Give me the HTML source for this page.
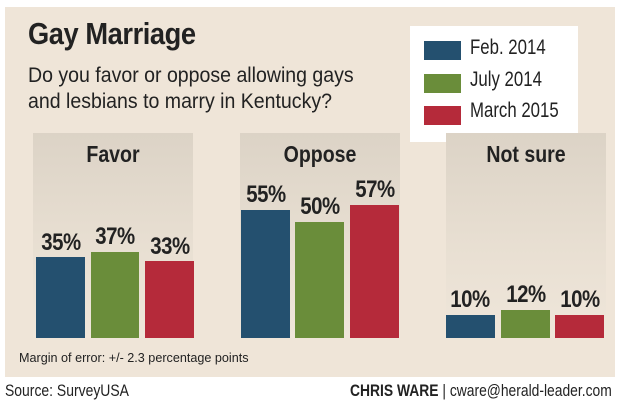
<!DOCTYPE html><html><head><style>
body{margin:0;width:620px;height:407px;background:#fff;position:relative;overflow:hidden;font-family:"Liberation Sans",sans-serif;color:#222}
.a{position:absolute;white-space:nowrap;transform-origin:left top}
.panel{position:absolute;top:133px;height:205px;width:160px;background:linear-gradient(#dcd3c6,#e9e0d3 60%,#efe6da)}
.bar{position:absolute}
.b{background:#24506f}.g{background:#6a8d3a}.r{background:#b52a3a}
.h{position:absolute;top:141px;width:160px;text-align:center;font-weight:bold;font-size:23px;transform:scaleX(0.85)}
.v{position:absolute;width:60px;text-align:center;font-weight:bold;font-size:24px;transform:scaleX(0.85);letter-spacing:-0.5px}
.lg{position:absolute;left:14px;width:37px;height:19px}
.lt{position:absolute;left:60px;font-size:21px;white-space:nowrap;transform:scaleX(0.8);transform-origin:left top}
</style></head><body>
<div class="a" style="left:5px;top:7px;width:610px;height:370px;background:#efe5d8"></div>
<div class="a" style="left:28px;top:16px;font-size:31px;font-weight:bold;letter-spacing:-0.5px;transform:scaleX(0.88)">Gay Marriage</div>
<div class="a" style="left:28px;top:63px;font-size:21px;line-height:26px;transform:scaleX(0.93)">Do you favor or oppose allowing gays<br>and lesbians to marry in Kentucky?</div>
<div class="a" style="left:410px;top:26px;width:168px;height:116px;background:#fff">
<div class="lg b" style="top:15px"></div><div class="lt" style="top:10px">Feb. 2014</div>
<div class="lg g" style="top:48px"></div><div class="lt" style="top:42px">July 2014</div>
<div class="lg r" style="top:80px"></div><div class="lt" style="top:73px">March 2015</div>
</div>
<div class="panel" style="left:33px"></div>
<div class="panel" style="left:240px"></div>
<div class="panel" style="left:446px"></div>
<div class="h" style="left:33px">Favor</div>
<div class="h" style="left:240px">Oppose</div>
<div class="h" style="left:446px">Not sure</div>

<div class="bar b" style="left:36px;width:49px;top:257px;height:81px"></div>
<div class="bar g" style="left:91px;width:48px;top:252px;height:86px"></div>
<div class="bar r" style="left:145px;width:49px;top:261px;height:77px"></div>
<div class="bar b" style="left:241px;width:49px;top:210px;height:128px"></div>
<div class="bar g" style="left:295px;width:49px;top:222px;height:116px"></div>
<div class="bar r" style="left:350px;width:49px;top:205px;height:133px"></div>
<div class="bar b" style="left:446px;width:49px;top:315px;height:23px"></div>
<div class="bar g" style="left:501px;width:49px;top:310px;height:28px"></div>
<div class="bar r" style="left:555px;width:49px;top:315px;height:23px"></div>

<div class="v" style="left:31px;top:229px">35%</div>
<div class="v" style="left:85px;top:223px">37%</div>
<div class="v" style="left:140px;top:233px">33%</div>
<div class="v" style="left:236px;top:181px">55%</div>
<div class="v" style="left:290px;top:193px">50%</div>
<div class="v" style="left:345px;top:176px">57%</div>
<div class="v" style="left:440px;top:286px">10%</div>
<div class="v" style="left:496px;top:281px">12%</div>
<div class="v" style="left:550px;top:286px">10%</div>

<div class="a" style="left:19px;top:350px;font-size:13px;transform:scaleX(0.97)">Margin of error: +/- 2.3 percentage points</div>
<div class="a" style="left:5px;top:381px;font-size:17px;transform:scaleX(0.82)">Source: SurveyUSA</div>
<div class="a" style="left:350px;top:381px;font-size:17px;transform:scaleX(0.815)"><b>CHRIS WARE</b> | cware@herald-leader.com</div>
</body></html>
